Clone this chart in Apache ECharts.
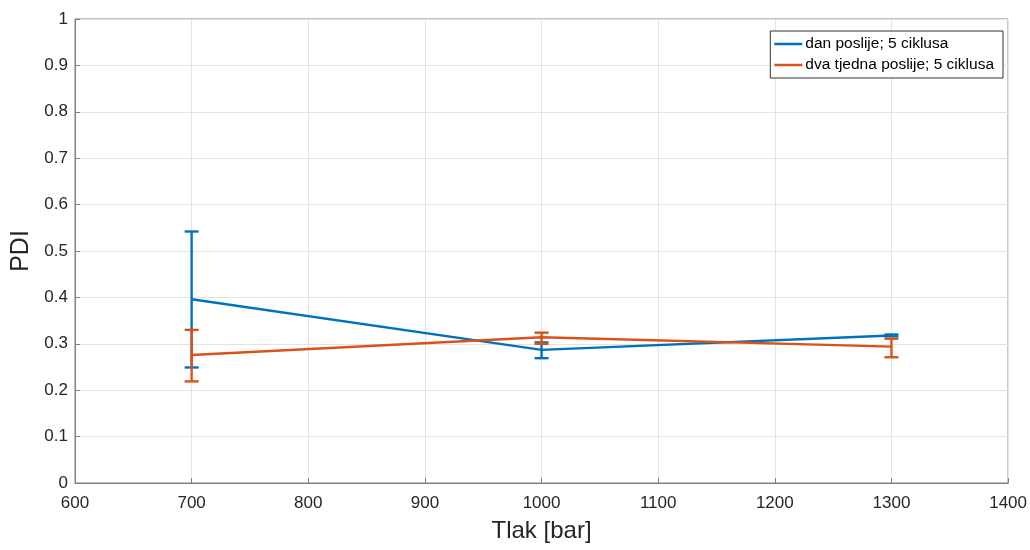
<!DOCTYPE html>
<html>
<head>
<meta charset="utf-8">
<script src="https://cdn.jsdelivr.net/npm/echarts@6/dist/echarts.min.js"></script>
<style>html,body{margin:0;padding:0;background:#fff;}#c{width:1030px;height:550px;}</style>
</head>
<body>
<div id="c"></div>
<script>
var xs = [700, 1000, 1300];
var seriesNames = ['dan poslije; 5 ciklusa', 'dva tjedna poslije; 5 ciklusa'];
var blueMean = [0.396, 0.287, 0.318];
var blueLow = [0.249, 0.269, 0.316];
var blueHigh = [0.542, 0.303, 0.320];
var orangeMean = [0.276, 0.314, 0.294];
var orangeLow = [0.219, 0.300, 0.271];
var orangeHigh = [0.330, 0.324, 0.311];
var xTicks = [600, 700, 800, 900, 1000, 1100, 1200, 1300, 1400];
var yTicks = [0, 0.1, 0.2, 0.3, 0.4, 0.5, 0.6, 0.7, 0.8, 0.9, 1];

var BLUE = '#0072BD', ORANGE = '#D95319';
var FONT = '"Liberation Sans", Arial, sans-serif';

function pairs(x, y) { return x.map(function (v, i) { return [v, y[i]]; }); }
function errData(x, lo, hi) { return x.map(function (v, i) { return [v, lo[i], hi[i]]; }); }

function errRender(color) {
  return function (params, api) {
    var x = api.value(0), lo = api.value(1), hi = api.value(2);
    var pLo = api.coord([x, lo]), pHi = api.coord([x, hi]);
    var w = 7;
    var st = { stroke: color, lineWidth: 2.4 };
    return {
      type: 'group',
      children: [
        { type: 'line', shape: { x1: pLo[0], y1: pLo[1], x2: pHi[0], y2: pHi[1] }, style: st },
        { type: 'line', shape: { x1: pLo[0] - w, y1: pLo[1], x2: pLo[0] + w, y2: pLo[1] }, style: st },
        { type: 'line', shape: { x1: pHi[0] - w, y1: pHi[1], x2: pHi[0] + w, y2: pHi[1] }, style: st }
      ]
    };
  };
}

var chart = echarts.init(document.getElementById('c'), null, { renderer: 'canvas' });
chart.setOption({
  backgroundColor: '#fff',
  animation: false,
  textStyle: { fontFamily: FONT },
  grid: { left: 75, right: 19, top: 19, bottom: 67, show: true, borderColor: '#808080', borderWidth: 1, backgroundColor: '#fff' },
  legend: {
    data: seriesNames,
    orient: 'vertical',
    right: 27,
    top: 31,
    padding: [5, 9, 5, 4],
    itemGap: 5,
    itemWidth: 28,
    itemHeight: 2.5,
    icon: 'rect',
    backgroundColor: '#fff',
    borderColor: '#333',
    borderWidth: 1,
    textStyle: { fontFamily: FONT, fontSize: 15.5, color: '#000', padding: [0, 0, 0, -2] }
  },
  xAxis: {
    type: 'value',
    min: xTicks[0], max: xTicks[xTicks.length - 1], interval: 100,
    name: 'Tlak [bar]', nameLocation: 'middle', nameGap: 36,
    nameTextStyle: { fontFamily: FONT, fontSize: 24, color: '#262626' },
    axisLine: { show: true, lineStyle: { color: '#808080', width: 1 } },
    axisTick: { show: true, inside: true, length: 5, lineStyle: { color: '#808080' } },
    axisLabel: { fontFamily: FONT, fontSize: 17, color: '#262626', margin: 12,
      formatter: function (v) { return String(v); } },
    splitLine: { show: true, lineStyle: { color: '#e3e3e3', width: 1 } }
  },
  yAxis: {
    type: 'value',
    min: yTicks[0], max: yTicks[yTicks.length - 1], interval: 0.1,
    name: 'PDI', nameLocation: 'middle', nameGap: 41, nameRotate: 90,
    nameTextStyle: { fontFamily: FONT, fontSize: 25, color: '#262626' },
    axisLine: { show: true, lineStyle: { color: '#808080', width: 1 } },
    axisTick: { show: true, inside: true, length: 5, lineStyle: { color: '#808080' } },
    axisLabel: { fontFamily: FONT, fontSize: 17, color: '#262626', margin: 7,
      formatter: function (v) { return String(Math.round(v * 10) / 10); } },
    splitLine: { show: true, lineStyle: { color: '#e3e3e3', width: 1 } }
  },
  series: [
    { name: seriesNames[0], type: 'line', data: pairs(xs, blueMean), showSymbol: false, symbol: 'none',
      lineStyle: { color: BLUE, width: 2.4 }, itemStyle: { color: BLUE }, z: 2 },
    { name: 'err0', type: 'custom', data: errData(xs, blueLow, blueHigh), renderItem: errRender(BLUE), z: 2,
      encode: { x: 0, y: [1, 2] } },
    { name: seriesNames[1], type: 'line', data: pairs(xs, orangeMean), showSymbol: false, symbol: 'none',
      lineStyle: { color: ORANGE, width: 2.4 }, itemStyle: { color: ORANGE }, z: 3 },
    { name: 'err1', type: 'custom', data: errData(xs, orangeLow, orangeHigh), renderItem: errRender(ORANGE), z: 3,
      encode: { x: 0, y: [1, 2] } }
  ]
});
</script>
</body>
</html>
